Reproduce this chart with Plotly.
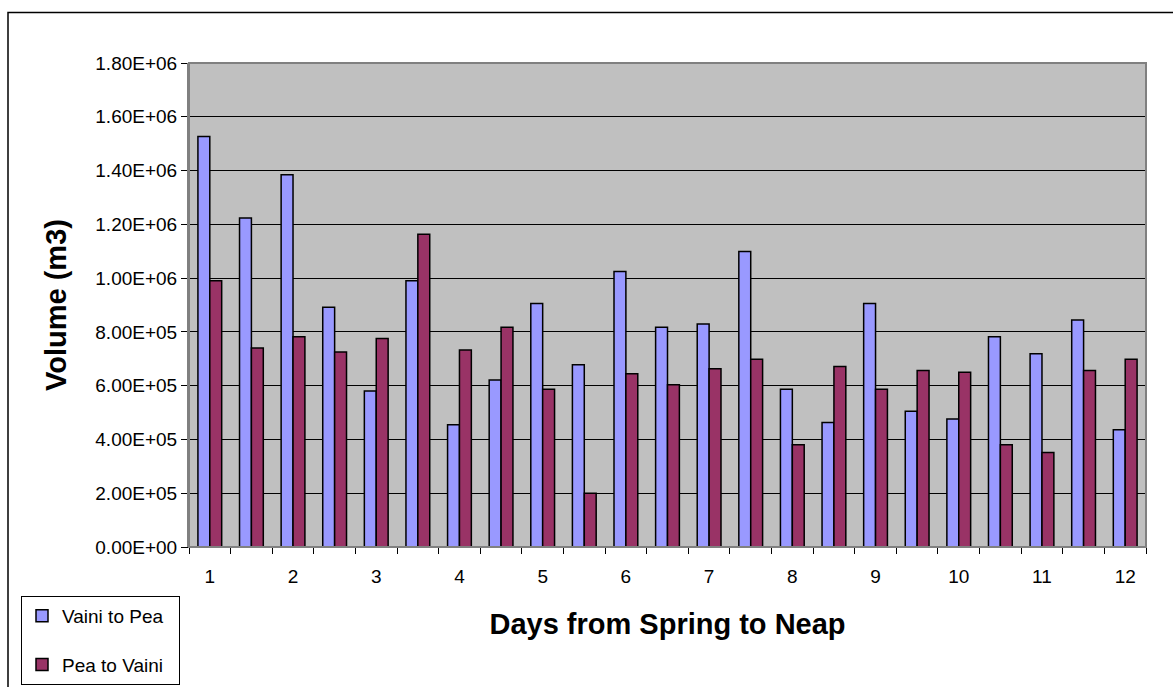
import plotly.graph_objects as go

# Half-day steps from spring tide (day 1) to neap tide (day 12)
days = [1, 1.5, 2, 2.5, 3, 3.5, 4, 4.5, 5, 5.5, 6, 6.5,
        7, 7.5, 8, 8.5, 9, 9.5, 10, 10.5, 11, 11.5, 12]

# Exchanged volumes (m3)
vaini_to_pea = [1527000, 1224000, 1384000, 892000, 580000, 990000, 455000, 621000,
                906000, 678000, 1025000, 817000, 829000, 1099000, 587000, 463000,
                906000, 505000, 476000, 782000, 719000, 844000, 436000]
pea_to_vaini = [990000, 740000, 782000, 725000, 775000, 1163000, 733000, 817000,
                587000, 200000, 644000, 603000, 663000, 698000, 380000, 671000,
                587000, 656000, 650000, 380000, 351000, 656000, 698000]

day_ticks = [1, 2, 3, 4, 5, 6, 7, 8, 9, 10, 11, 12]
volume_ticks = [0, 200000, 400000, 600000, 800000, 1000000,
                1200000, 1400000, 1600000, 1800000]
volume_labels = [f"{v:.2E}" for v in volume_ticks]

FONT = "Liberation Sans, Arial, sans-serif"
W, H = 1173, 687
L, R, T, B = 189, 27, 63, 140
pw, ph = W - L - R, H - T - B


def px_x(x):
    return (x - L) / pw


def px_y(y):
    return (H - B - y) / ph


fig = go.Figure()
fig.add_trace(go.Bar(
    x=days, y=vaini_to_pea, name="Vaini to Pea  ", legendgroup="a",
    marker=dict(color="#9999FF", line=dict(color="#000000", width=1.5)),
))
fig.add_trace(go.Bar(
    x=days, y=pea_to_vaini, name="Pea to Vaini  ", legendgroup="b",
    marker=dict(color="#993366", line=dict(color="#000000", width=1.5)),
))

fig.update_layout(
    width=W, height=H,
    margin=dict(l=L, r=R, t=T, b=B, autoexpand=False),
    paper_bgcolor="white",
    plot_bgcolor="#C0C0C0",
    barmode="group",
    bargap=0.4286,
    bargroupgap=0,
    font=dict(family=FONT, size=19, color="#000000"),
    showlegend=True,
    legend=dict(
        x=px_x(21), y=px_y(596), xanchor="left", yanchor="top",
        bgcolor="white", bordercolor="#000000", borderwidth=1,
        font=dict(family=FONT, size=19, color="#000000"),
        tracegroupgap=21, traceorder="grouped",
    ),
    xaxis=dict(
        range=[0.75, 12.25],
        tickmode="array", tickvals=day_ticks, ticktext=[str(d) for d in day_ticks],
        ticks="", showgrid=False, zeroline=False,
        showline=True, linecolor="#000000", linewidth=1,
        minor=dict(ticks="outside", tick0=0.75, dtick=0.5, ticklen=6,
                   tickcolor="#000000", tickwidth=1, showgrid=False),
        ticklabelstandoff=12,
        title=dict(text="<b>Days from Spring to Neap</b>",
                   font=dict(family=FONT, size=29, color="#000000"),
                   standoff=27),
    ),
    yaxis=dict(
        range=[0, 1800000],
        tickmode="array", tickvals=volume_ticks, ticktext=volume_labels,
        ticks="outside", ticklen=6, tickcolor="#000000", tickwidth=1,
        showgrid=True, gridcolor="#000000", gridwidth=1,
        zeroline=False,
        showline=True, linecolor="#808080", linewidth=2,
        title=dict(text="<b>Volume (m3)</b>",
                   font=dict(family=FONT, size=29, color="#000000"),
                   standoff=20),
    ),
    shapes=[
        # plot-area frame (top and right edges)
        dict(type="rect", xref="paper", yref="paper", x0=0, x1=1, y0=0, y1=1,
             line=dict(color="#808080", width=2), layer="above"),
        # outer chart border
        dict(type="rect", xref="paper", yref="paper",
             x0=px_x(8), x1=px_x(W + 10), y0=px_y(H + 10), y1=px_y(12.5),
             line=dict(color="#000000", width=1.5), layer="below"),
    ],
)

fig.write_html("out.html")
